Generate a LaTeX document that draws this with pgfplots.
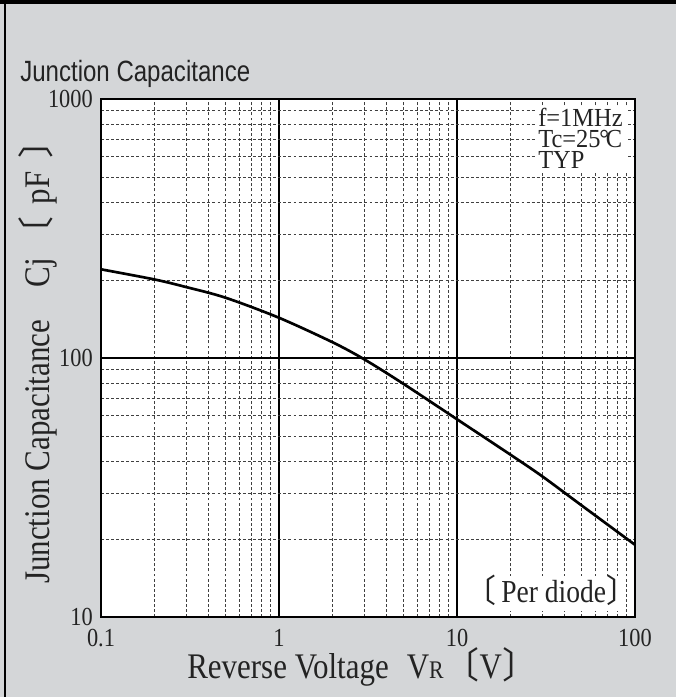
\documentclass[border=0pt]{standalone}
\usepackage{pgfplots}
\pgfplotsset{compat=1.18}
\usepackage{fontspec}
\setmainfont{Liberation Serif}
\newfontfamily\cond{Liberation Serif}[FakeStretch=0.86]
\newfontfamily\condb{Liberation Serif}[FakeStretch=0.94]
\newfontfamily\titlefont{Liberation Sans}[FakeStretch=0.82]
\newfontfamily\cjk{Noto Sans CJK JP}
\definecolor{panel}{RGB}{212,214,216}
\definecolor{ink}{RGB}{35,35,35}

\begin{document}
\begin{tikzpicture}[x=1pt,y=1pt]
% panel and frame (1px = 0.75pt, axis corner at origin)
\fill[panel] (-75.75,-60) rectangle (431.25,462.75);
\fill[black] (-75.75,459.75) rectangle (431.25,462.75);
\fill[black] (-72.75,-60) rectangle (-71.25,462.75);

\begin{axis}[
  at={(0,0)}, anchor=south west,
  scale only axis, width=400.5pt, height=388.5pt,
  xmode=log, ymode=log,
  xmin=0.1, xmax=100, ymin=10, ymax=1000,
  xtick={0.1,1,10,100}, xticklabels={0.1,1,10,100},
  ytick={10,100,1000}, yticklabels={10,100,1000},
  minor xtick={0.2,0.3,0.4,0.5,0.6,0.7,0.8,0.9,2,3,4,5,6,7,8,9,20,30,40,50,60,70,80,90},
  minor ytick={20,30,40,50,60,70,80,90,200,300,400,500,600,700,800,900},
  grid=both,
  major grid style={black, line width=1.2pt},
  minor grid style={black!75, line width=0.55pt, dash pattern=on 2.2pt off 1.6pt},
  major tick length=0pt, minor tick length=0pt,
  axis line style={black, line width=1.6pt},
  axis background/.style={fill=white},
  tick label style={font=\cond\fontsize{19.5}{22}\selectfont, text=ink, inner sep=1pt},
  xticklabel style={yshift=-8pt},
  yticklabel style={xshift=-5pt},
  label style={font=\cond\fontsize{27}{30}\selectfont, text=ink},
  xlabel={Reverse Voltage\hspace{0.5em}V{\fontsize{19}{19}\selectfont R}{\cjk 〔}V{\cjk 〕}},
  ylabel={Junction Capacitance\hspace{0.9em}Cj\kern0.15em{\cjk 〔}\kern0.35em pF\kern0.35em{\cjk 〕}},
  xlabel style={at={(axis description cs:0.49,-0.118)}, anchor=base},
  ylabel style={at={(axis description cs:-0.0955,0.509)}, anchor=base},
]
\addplot[black, line width=2pt, smooth] coordinates {
  (0.1,220) (0.2,201) (0.3,188) (0.5,171) (1,143)
  (2,115) (3,99) (5,79.5) (10,58) (20,42.3) (30,35) (50,27) (100,19)
};
\end{axis}

% title
\node[anchor=base west, inner sep=0, text=ink,
  font=\titlefont\fontsize{22}{24}\selectfont] at (-60.75,401.25) {Junction Capacitance};

% condition box
\fill[white] (325.5,383.25) rectangle (395.25,334);
\begin{scope}[every node/.style={anchor=base west, inner sep=0, text=ink,
  text height=0.6em, text depth=0pt, font=\condb\fontsize{19.5}{21}\selectfont}]
\node at (327.75,367.5) {f=1MHz};
\node at (327.75,351.75) {Tc=25{\kern-0.05em}°{\kern-0.12em}C};
\node at (327.75,336.25) {TYP};
\end{scope}

% per diode box
\fill[white] (282,30.75) rectangle (393.75,4.5);
\node[anchor=base east, inner sep=0, text=ink, font=\cond\fontsize{24}{26}\selectfont]
  at (403,11.25) {{\cjk 〔}\kern0.14em Per diode{\cjk 〕}};
\end{tikzpicture}
\end{document}
